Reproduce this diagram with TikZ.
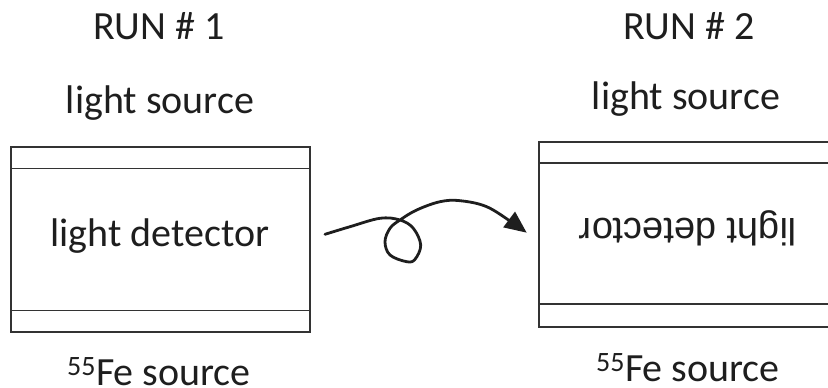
\documentclass[tikz,border=0pt]{standalone}
\usepackage{fontspec}
\setmainfont{Carlito}
\newfontfamily\arialf{Liberation Sans}
\usetikzlibrary{arrows.meta}
\definecolor{ink}{HTML}{1E1E1E}
\definecolor{boxline}{HTML}{333333}
\tikzset{
  lbl/.style={font=\fontsize{40}{42}\selectfont, text=ink, inner sep=0pt, anchor=base},
  detbox/.style={draw=boxline, line width=1.3pt, rectangle, inner sep=0pt},
  flip/.style={font=\arialf\fontsize{38}{40}\selectfont, text=ink, inner sep=0pt, anchor=base, rotate=180},
  loopy/.style={line width=2.8pt, ink, line cap=round, -{Triangle[length=22pt,width=19pt]}}
}
\begin{document}
\begin{tikzpicture}[x=1pt,y=-1pt]
\useasboundingbox (0,0) rectangle (828,388);
% left run
\node[lbl] (run1) at (159,39) {RUN \# 1};
\node[lbl] (ls1) at (160,113) {light source};
\node[detbox, minimum width=299pt, minimum height=185pt] (box1) at (160.5,239.5) {};
\draw[boxline, line width=1.3pt] ([yshift=-22pt]box1.north west) -- ([yshift=-22pt]box1.north east);
\draw[boxline, line width=1.3pt] ([yshift=22pt]box1.south west) -- ([yshift=22pt]box1.south east);
\node[lbl] (ld1) at (160,246) {light detector};
\node[lbl] (fe1) at (159,385) {\textsuperscript{55}Fe source};
% right run
\node[lbl] (run2) at (689,39) {RUN \# 2};
\node[lbl] (ls2) at (686,109) {light source};
\coordinate (b2tl) at (539,142);
\coordinate (b2bl) at (539,327);
\coordinate (b2tr) at (828,142);
\coordinate (b2br) at (828,327);
\draw[boxline, line width=1.3pt] (b2tr) -- (b2tl) -- (b2bl) -- (b2br);
\draw[boxline, line width=1.3pt] ([yshift=-21pt]b2tl) -- ([yshift=-21pt]b2tr);
\draw[boxline, line width=1.3pt] ([yshift=23pt]b2bl) -- ([yshift=23pt]b2br);
\node[flip] (ld2) at (688,218) {light detector};
\node[lbl] (fe2) at (688,381) {\textsuperscript{55}Fe source};
% loop arrow
\coordinate (cs) at (325,234.3);
\coordinate (ce) at (526.7,232.7);
\draw[loopy] plot[smooth, tension=0.6] coordinates {(cs) (350,226.7) (380,218.3) (400,220) (413.3,228.3) (420.7,245) (415,259.3) (406.7,261.7) (390,255) (385,241.7) (390,228.3) (400,220) (416.7,210) (440,201.7) (460,200.7) (486.7,206.7) (513.3,223.3) (ce)};
\end{tikzpicture}
\end{document}
